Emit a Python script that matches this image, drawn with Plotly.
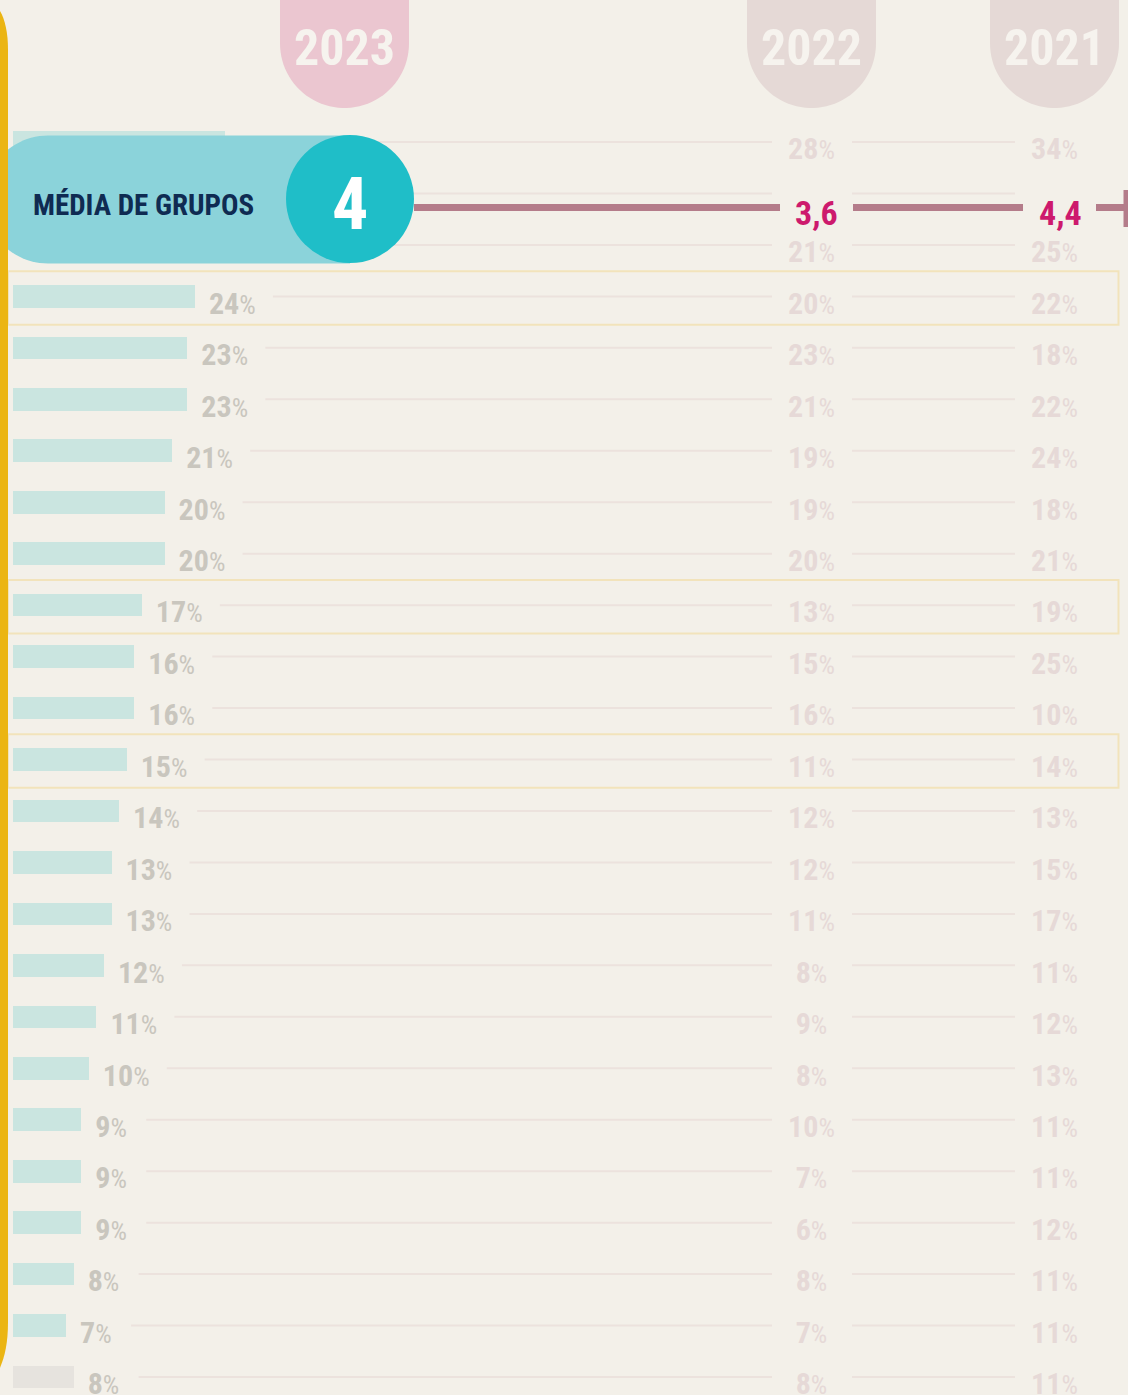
import numpy as np
import plotly.graph_objects as go

# ---------------- data ----------------
rows = list(range(25))
v2023 = [28, None, None, 24, 23, 23, 21, 20, 20, 17, 16, 16, 15, 14, 13, 13, 12, 11, 10, 9, 9, 9, 8, 7, 8]
v2022 = [28, None, 21, 20, 23, 21, 19, 19, 20, 13, 15, 16, 11, 12, 12, 11, 8, 9, 8, 10, 7, 6, 8, 7, 8]
v2021 = [34, None, 25, 22, 18, 22, 24, 18, 21, 19, 25, 10, 14, 13, 15, 17, 11, 12, 13, 11, 11, 12, 11, 11, 11]
years = ["2023", "2022", "2021"]
avg_values = [4, 3.6, 4.4]
avg_label = "MÉDIA DE GRUPOS"
highlight_rows = [3, 9, 12]

# ---------------- style ----------------
BG = "#f3f0e9"
TEAL = "#cae5e0"
GREY_BAR = "#e6e3de"
LBL23 = "#c9c6be"
LBLOLD = "#e6d9d7"
ROWLINE = "#ece2dd"
YELLOW = "#ebb513"
PILL = "#8bd3da"
CIRCLE = "#1fbec8"
NAVY = "#0f2b52"
AVGLINE = "#b47c8a"
AVGTXT = "#cd1a6d"
TAB23 = "#ebc6d0"
TABOLD = "#e5d9d6"
BOX = "#f2e3bb"
FONT = "Roboto Condensed, Liberation Sans Narrow, Roboto, sans-serif"

W, H = 1128, 1395
X0, SX = 13.0, 7.58      # px of value 0, px per percent
Y0, SY = 142.0, 51.46    # px of row 0, px per row


def ux(px):
    return (px - X0) / SX


def fmt_pct(v, small):
    return f"{v}<span style='font-size:{small}px;font-weight:400'>%</span>"


def fmt_num(v):
    return f"{v:g}".replace(".", ",")


COL22_X, COL21_X = 811.5, 1054.5
SEG_A_END, SEG_B = 772, (852, 1015)
PCT_SIZE, PCT_SMALL = 30, 26
LBL_DY = 0.19

fig = go.Figure()

# bars 2023
bar_colors = [TEAL] * (len(rows) - 1) + [GREY_BAR]
fig.add_trace(go.Bar(
    x=v2023, y=rows, orientation="h", base=0, width=0.44,
    marker=dict(color=bar_colors, line=dict(width=0)),
    hoverinfo="skip", showlegend=False,
))

# row lines
lx, ly = [], []
for r, v in zip(rows, v2023):
    if v is None:
        start = ux(0)
    else:
        lw = 48 if v >= 10 else 35
        start = v + (14 + lw + 16) / SX
    lx += [start, ux(SEG_A_END), None, ux(SEG_B[0]), ux(SEG_B[1]), None]
    ly += [r, r, None, r, r, None]
fig.add_trace(go.Scatter(x=lx, y=ly, mode="lines", line=dict(color=ROWLINE, width=2),
                         hoverinfo="skip", showlegend=False))

# labels 2023
idx = [i for i, v in enumerate(v2023) if v is not None]
fig.add_trace(go.Scatter(
    x=[v2023[i] + 14 / SX for i in idx], y=[rows[i] + LBL_DY for i in idx],
    mode="text", text=[fmt_pct(v2023[i], PCT_SMALL) for i in idx], textposition="middle right",
    textfont=dict(family=FONT, size=PCT_SIZE, color=LBL23, weight=700),
    hoverinfo="skip", showlegend=False,
))
# labels 2022 / 2021
for vals, cx in [(v2022, COL22_X), (v2021, COL21_X)]:
    idx = [i for i, v in enumerate(vals) if v is not None]
    fig.add_trace(go.Scatter(
        x=[ux(cx)] * len(idx), y=[rows[i] + LBL_DY for i in idx],
        mode="text", text=[fmt_pct(vals[i], PCT_SMALL) for i in idx], textposition="middle center",
        textfont=dict(family=FONT, size=PCT_SIZE, color=LBLOLD, weight=700),
        hoverinfo="skip", showlegend=False,
    ))

# dummy trace for pixel overlay axes
fig.add_trace(go.Scatter(x=[0], y=[0], xaxis="x2", yaxis="y2", mode="markers",
                         marker=dict(opacity=0), hoverinfo="skip", showlegend=False))

shapes = []
# highlighted row boxes
for r in highlight_rows:
    shapes.append(dict(type="rect", xref="x2", yref="y", x0=8, x1=1118.5, y0=r - 0.49, y1=r + 0.55,
                       line=dict(color=BOX, width=2), fillcolor="rgba(0,0,0,0)", layer="below"))


def tab_path(x0, x1, depth):
    r = (x1 - x0) / 2
    cx = x0 + r
    cy = depth - r
    pts = [f"M {x0} -5", f"L {x0} {cy:.2f}"]
    for a in np.linspace(np.pi, 0, 48):
        pts.append(f"L {cx + r * np.cos(a):.2f} {cy + r * np.sin(a):.2f}")
    pts.append(f"L {x1} -5 Z")
    return " ".join(pts)


tabs = [(280, 409, TAB23), (747, 876, TABOLD), (990, 1119, TABOLD)]
for (a, b, c) in tabs:
    shapes.append(dict(type="path", xref="x2", yref="y2", path=tab_path(a, b, 108),
                       fillcolor=c, line=dict(width=0), layer="above"))

# average line
for (a, b) in [(414, 780), (853, 1023), (1096, 1124)]:
    shapes.append(dict(type="line", xref="x2", yref="y2", x0=a, x1=b, y0=207.5, y1=207.5,
                       line=dict(color=AVGLINE, width=7), layer="above"))
shapes.append(dict(type="line", xref="x2", yref="y2", x0=1126, x1=1126, y0=190, y1=227,
                   line=dict(color=AVGLINE, width=5), layer="above"))

# pill
pr, pcx, pcy = 64, 48, 199.5
pp = [f"M 350 {pcy - pr}", f"L {pcx} {pcy - pr}"]
for a in np.linspace(np.pi / 2, 3 * np.pi / 2, 48):
    pp.append(f"L {pcx + pr * np.cos(a):.2f} {pcy - pr * np.sin(a):.2f}")
pp.append(f"L 350 {pcy + pr} Z")
shapes.append(dict(type="path", xref="x2", yref="y2", path=" ".join(pp),
                   fillcolor=PILL, line=dict(width=0), layer="above"))
shapes.append(dict(type="circle", xref="x2", yref="y2", x0=286, x1=414, y0=135, y1=263,
                   fillcolor=CIRCLE, line=dict(width=0), layer="above"))

# yellow frame edge
shapes.append(dict(type="path", xref="x2", yref="y2",
                   path="M -2 8 C 4 16, 8 30, 8 50 L 8 1322 C 8 1345, 4 1360, -2 1372 Z",
                   fillcolor=YELLOW, line=dict(width=0), layer="above"))

ann = []
for yr, (a, b, c) in zip(years, tabs):
    ann.append(dict(xref="x2", yref="y2", x=(a + b) / 2, y=48, text=f"<b>{yr}</b>", showarrow=False,
                    font=dict(family=FONT, size=50, color="#f6f3ee")))
ann.append(dict(xref="x2", yref="y2", x=31, y=205, xanchor="left", text=f"<b>{avg_label}</b>",
                showarrow=False, font=dict(family=FONT, size=29, color=NAVY)))
ann.append(dict(xref="x2", yref="y2", x=350, y=204, text=f"<b>{fmt_num(avg_values[0])}</b>",
                showarrow=False, font=dict(family=FONT, size=72, color="white")))
for val, cx in zip(avg_values[1:], [816, 1060]):
    ann.append(dict(xref="x2", yref="y2", x=cx, y=213, text=f"<b>{fmt_num(val)}</b>",
                    showarrow=False, font=dict(family=FONT, size=34, color=AVGTXT)))

fig.update_layout(
    width=W, height=H, margin=dict(l=0, r=0, t=0, b=0),
    paper_bgcolor=BG, plot_bgcolor=BG, showlegend=False,
    xaxis=dict(range=[ux(0), ux(W)], visible=False, fixedrange=True),
    yaxis=dict(range=[(H - Y0) / SY, (0 - Y0) / SY], visible=False, fixedrange=True),
    xaxis2=dict(range=[0, W], overlaying="x", visible=False, fixedrange=True),
    yaxis2=dict(range=[H, 0], overlaying="y", visible=False, fixedrange=True),
    shapes=shapes, annotations=ann, bargap=0,
)

fig.write_html("out.html", config={"displayModeBar": False},
               post_script="document.body.style.margin='0';document.body.style.overflow='hidden';")
